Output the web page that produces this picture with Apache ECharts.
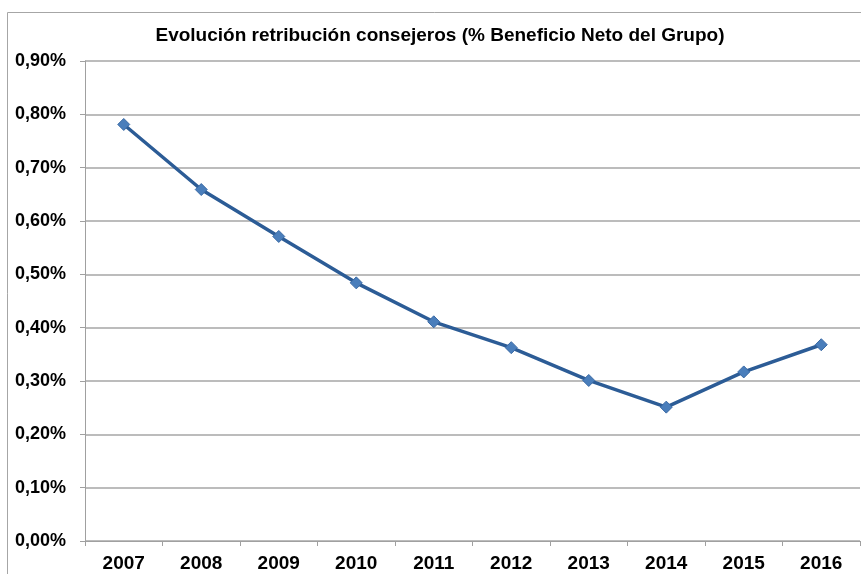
<!DOCTYPE html>
<html><head><meta charset="utf-8">
<script src="https://cdn.jsdelivr.net/npm/echarts@6/dist/echarts.min.js"></script>
<style>html,body{margin:0;padding:0;background:#fff}#c{width:861px;height:574px}</style>
</head><body><div id="c"></div>
<script>
const years = ['2007','2008','2009','2010','2011','2012','2013','2014','2015','2016'];
const values = [0.781, 0.659, 0.571, 0.484, 0.411, 0.3625, 0.301, 0.251, 0.317, 0.368];
const titleText = 'Evolución retribución consejeros (% Beneficio Neto del Grupo)';

const chart = echarts.init(document.getElementById('c'));
const font = 'Liberation Sans, Arial, sans-serif';
chart.setOption({
  animation: false,
  backgroundColor: '#fff',
  title: {
    text: titleText, left: 435, top: 21, textAlign: 'center',
    textStyle: {fontFamily: font, fontWeight: 'bold', fontSize: 19, color: '#000'}
  },
  graphic: [{
    type: 'rect', shape: {x: 7.5, y: 12.5, width: 900, height: 700},
    style: {fill: 'none', stroke: '#a6a6a6', lineWidth: 1}, silent: true, z: -1
  }],
  grid: {left: 85, right: 1, top: 61, bottom: 33, containLabel: false},
  xAxis: {
    type: 'category', data: years, boundaryGap: true,
    axisLine: {lineStyle: {color: '#a0a0a0', width: 1}},
    axisTick: {show: true, length: 5, inside: false, lineStyle: {color: '#a0a0a0'}},
    axisLabel: {fontFamily: font, fontWeight: 'bold', fontSize: 19, color: '#000', margin: 13}
  },
  yAxis: {
    type: 'value', min: 0, max: 0.9, interval: 0.1,
    axisLine: {show: true, lineStyle: {color: '#a0a0a0', width: 1}},
    axisTick: {show: true, length: 5, lineStyle: {color: '#a0a0a0'}},
    splitLine: {lineStyle: {color: '#a6a6a6', width: 1.5}},
    axisLabel: {
      fontFamily: font, fontWeight: 'bold', fontSize: 18, color: '#000', margin: 19,
      formatter: v => v.toFixed(2).replace('.', ',') + '%'
    }
  },
  series: [{
    type: 'line', data: values,
    symbol: 'diamond', symbolSize: 12,
    lineStyle: {color: '#2C5C96', width: 3.5},
    itemStyle: {color: '#4A7EBB', borderColor: '#3A6AA5', borderWidth: 1}
  }]
});
</script></body></html>
